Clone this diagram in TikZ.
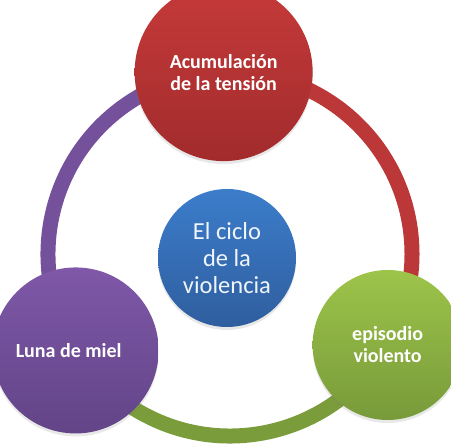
\documentclass[tikz,border=0pt]{standalone}
\usepackage{fontspec}
\setmainfont{Carlito}
\usetikzlibrary{shadows}
\definecolor{tensionred}{HTML}{C63A3A}
\definecolor{tensionreddk}{HTML}{A22B2C}
\definecolor{mielpurple}{HTML}{7F58A8}
\definecolor{mielpurpledk}{HTML}{624487}
\definecolor{violgreen}{HTML}{9DC44A}
\definecolor{violgreendk}{HTML}{789A3A}
\definecolor{cycleblue}{HTML}{3C7DCB}
\definecolor{cyclebluedk}{HTML}{2F5E9E}
\tikzset{
  band/.style={line width=15bp},
  phase/.style={circle, inner sep=0pt, align=center, text=white,
    font=\fontsize{20bp}{22bp}\selectfont\bfseries,
    drop shadow={opacity=0.18, shadow xshift=0bp, shadow yshift=-3bp}},
  hub/.style={circle, inner sep=0pt, align=center, text=white!92!cycleblue,
    font=\fontsize{24.5bp}{27bp}\selectfont,
    drop shadow={opacity=0.18, shadow xshift=0bp, shadow yshift=-3bp}}
}

\begin{document}
\begin{tikzpicture}[x=1bp,y=1bp]
  \useasboundingbox (0,0) rectangle (451,448);
  \coordinate (c) at (230,194);
  % ring
  \draw[band, tensionred!95!black] ([shift={(92:182)}]c) arc (92:-30:182);
  \draw[band, violgreendk!95!violgreen] ([shift={(330:182)}]c) arc (330:212:182);
  \draw[band, mielpurple!92!black] ([shift={(212:182)}]c) arc (212:92:182);
  % phases
  \node[phase, minimum size=178bp, top color=tensionred, bottom color=tensionreddk]
    (tension) at ([shift={(92:182)}]c) {Acumulación\\de la tensión};
  \node[phase, minimum size=150bp, top color=violgreen, bottom color=violgreendk]
    (episode) at ([shift={(330:182)}]c) {episodio\\violento};
  \node[phase, minimum size=166bp, top color=mielpurple, bottom color=mielpurpledk]
    (honeymoon) at ([shift={(212:182)}]c) {Luna de miel\hspace*{14bp}};
  \node[hub, minimum size=138bp, top color=cycleblue, bottom color=cyclebluedk]
    (cycle) at (227,190) {El ciclo\\de la\\violencia};
\end{tikzpicture}
\end{document}
